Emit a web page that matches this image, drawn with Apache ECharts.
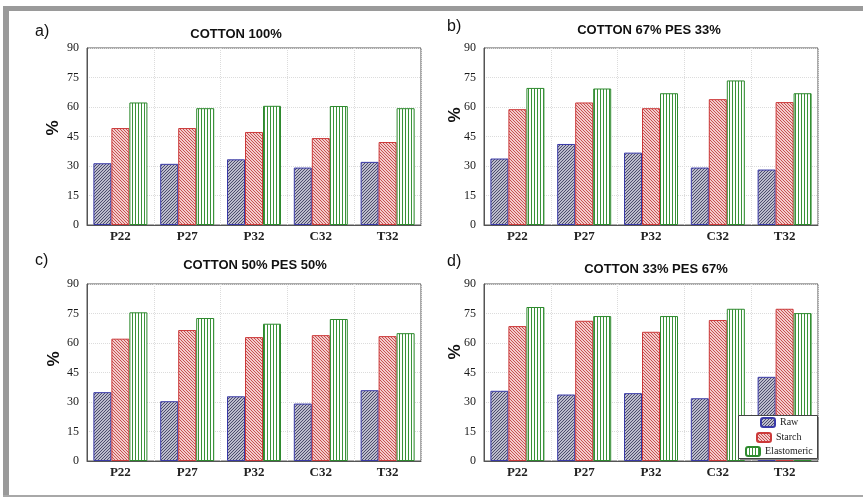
<!DOCTYPE html>
<html>
<head>
<meta charset="utf-8">
<script src="https://cdn.jsdelivr.net/npm/echarts@6/dist/echarts.min.js"></script>
<style>
  html, body { margin: 0; padding: 0; background: #fff; }
  #chart { width: 863px; height: 499px; }
</style>
</head>
<body>
<div id="chart"></div>
<script>
// Yarn types on the category axis
const categories = ['P22', 'P27', 'P32', 'C32', 'T32'];
const seriesNames = ['Raw', 'Starch', 'Elastomeric'];

// a) COTTON 100%
const rawA = [31.4, 31.1, 33.4, 29.2, 32.1];
const starchA = [49.3, 49.3, 47.3, 44.2, 42.2];
const elastA = [62.3, 59.4, 60.6, 60.5, 59.4];

// b) COTTON 67% PES 33%
const rawB = [33.8, 41.2, 36.8, 29.2, 28.2];
const starchB = [58.9, 62.3, 59.4, 64.0, 62.5];
const elastB = [69.7, 69.4, 67.0, 73.5, 67.0];

// c) COTTON 50% PES 50%
const rawC = [35.0, 30.4, 32.9, 29.2, 36.0];
const starchC = [62.2, 66.6, 63.0, 64.0, 63.5];
const elastC = [75.6, 72.7, 69.8, 72.2, 65.0];

// d) COTTON 33% PES 67%
const rawD = [35.7, 33.8, 34.5, 31.9, 42.8];
const starchD = [68.6, 71.3, 65.7, 71.7, 77.4];
const elastD = [78.3, 73.7, 73.7, 77.4, 75.2];

// Value axis range and step
const yMin = 0, yMax = 90, yStep = 15;

const panelTitles = ['COTTON 100%', 'COTTON 67% PES 33%', 'COTTON 50% PES 50%', 'COTTON 33% PES 67%'];
const panelLetters = ['a)', 'b)', 'c)', 'd)'];
const panelData = [
  [rawA, starchA, elastA],
  [rawB, starchB, elastB],
  [rawC, starchC, elastC],
  [rawD, starchD, elastD]
];

// Layout of the four panels (plot rectangles) and their annotations
const grids = [
  { left: 87, top: 48, width: 334, height: 177 },
  { left: 484, top: 48, width: 334, height: 177 },
  { left: 87, top: 284, width: 334, height: 177 },
  { left: 484, top: 284, width: 334, height: 177 }
];
const titlePos = [[236, 34], [649, 30], [255, 265], [656, 269]];
const letterPos = [[35, 32], [447, 27], [35, 261], [447, 262]];
const percentPos = [[53, 128], [455, 115], [54, 359], [455, 352]];

// Hatch fills drawn on small tiles
function diagTile(bg, fg, rising) {
  const c = document.createElement('canvas');
  c.width = 3; c.height = 3;
  const ctx = c.getContext('2d');
  ctx.fillStyle = bg; ctx.fillRect(0, 0, 3, 3);
  ctx.fillStyle = fg;
  for (let i = 0; i < 3; i++) ctx.fillRect(i, rising ? 2 - i : i, 1, 1);
  return c;
}
function vertTile(bg, fg) {
  const c = document.createElement('canvas');
  c.width = 3; c.height = 1;
  const ctx = c.getContext('2d');
  ctx.fillStyle = bg; ctx.fillRect(0, 0, 3, 1);
  ctx.fillStyle = fg; ctx.fillRect(0, 0, 1, 1);
  return c;
}
const fills = [
  { color: { image: diagTile('#bcbccc', '#4c4c6c', true), repeat: 'repeat' }, borderColor: '#3a3aa8' },
  { color: { image: diagTile('#f2cccc', '#c85050', false), repeat: 'repeat' }, borderColor: '#cc3a3a' },
  { color: { image: vertTile('#ffffff', '#3a943a'), repeat: 'repeat' }, borderColor: '#2e8a2e' }
];

const xAxes = [], yAxes = [], series = [];
grids.forEach((g, gi) => {
  xAxes.push({
    type: 'category', gridIndex: gi, data: categories,
    axisLine: { show: true, lineStyle: { color: '#555', width: 1 } },
    axisTick: { show: false },
    axisLabel: { fontFamily: 'Liberation Serif', fontSize: 13, fontWeight: 'bold', color: '#222', margin: 5 },
    splitLine: { show: true, lineStyle: { color: '#dcdcdc', type: 'dotted', width: 1 } }
  });
  yAxes.push({
    type: 'value', gridIndex: gi, min: yMin, max: yMax, interval: yStep,
    axisLine: { show: true, lineStyle: { color: '#555', width: 1 } },
    axisTick: { show: false },
    axisLabel: { fontFamily: 'Liberation Serif', fontSize: 12, color: '#1a1a1a', margin: 8 },
    splitLine: { show: true, lineStyle: { color: '#dcdcdc', type: 'dotted', width: 1 } }
  });
  panelData[gi].forEach((vals, si) => {
    series.push({
      type: 'bar', name: seriesNames[si], xAxisIndex: gi, yAxisIndex: gi,
      data: vals, barWidth: 18, barGap: '0%',
      itemStyle: { color: fills[si].color, borderColor: fills[si].borderColor, borderWidth: 1 },
      emphasis: { disabled: true }, animation: false
    });
  });
});

const graphics = [
  // frame bands
  { type: 'rect', shape: { x: 3, y: 6, width: 860, height: 5 }, style: { fill: '#9a9a9a' }, silent: true },
  { type: 'rect', shape: { x: 3, y: 6, width: 6, height: 491 }, style: { fill: '#9a9a9a' }, silent: true },
  { type: 'rect', shape: { x: 3, y: 495, width: 860, height: 2 }, style: { fill: '#a8a8a8' }, silent: true },
  // legend box
  { type: 'rect', z: 3, shape: { x: 740, y: 417, width: 79, height: 43 }, style: { fill: '#888' }, silent: true },
  { type: 'rect', z: 3, shape: { x: 738.5, y: 415.5, width: 79, height: 43 }, style: { fill: '#fff', stroke: '#444', lineWidth: 1 }, silent: true }
];
grids.forEach((g, gi) => {
  graphics.push({
    type: 'text', x: titlePos[gi][0], y: titlePos[gi][1],
    style: { text: panelTitles[gi], font: 'bold 13px "Liberation Sans", Arial', fill: '#111', textAlign: 'center', textVerticalAlign: 'middle' }
  });
  graphics.push({
    type: 'text', x: letterPos[gi][0], y: letterPos[gi][1],
    style: { text: panelLetters[gi], font: '16px "Liberation Sans", Arial', fill: '#111', textAlign: 'left', textVerticalAlign: 'middle' }
  });
  graphics.push({
    type: 'text', x: percentPos[gi][0], y: percentPos[gi][1], rotation: Math.PI / 2,
    style: { text: '%', font: 'bold 17px "Liberation Sans", Arial', fill: '#111', textAlign: 'center', textVerticalAlign: 'middle' }
  });
});

const legendBase = {
  orient: 'horizontal', padding: 0, itemWidth: 14, itemHeight: 9,
  itemGap: 4, selectedMode: false, z: 5,
  textStyle: { fontFamily: 'Liberation Serif', fontSize: 10, color: '#222', padding: [0, 0, 0, 0] }
};

const option = {
  backgroundColor: '#ffffff',
  animation: false,
  grid: grids.map(g => Object.assign({ show: true, borderColor: '#555', borderWidth: 1, backgroundColor: 'transparent' }, g)),
  xAxis: xAxes,
  yAxis: yAxes,
  series: series,
  legend: [
    Object.assign({}, legendBase, { data: ['Raw'], left: 760, top: 417 }),
    Object.assign({}, legendBase, { data: ['Starch'], left: 756, top: 432 }),
    Object.assign({}, legendBase, { data: ['Elastomeric'], left: 745, top: 446 })
  ],
  graphic: graphics
};

const chart = echarts.init(document.getElementById('chart'), null, { renderer: 'canvas' });
chart.setOption(option);
</script>
</body>
</html>
